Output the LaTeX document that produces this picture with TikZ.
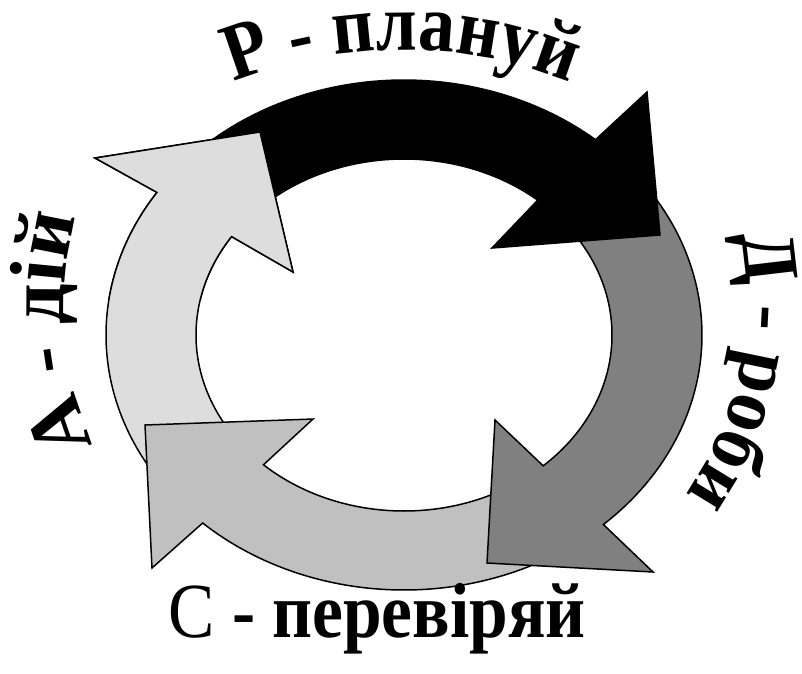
\documentclass[tikz,border=0pt]{standalone}
\usepackage{fontspec}
\setmainfont{Liberation Serif}
\newfontfamily\condfont[FakeStretch=0.9]{Liberation Serif}
\newfontfamily\sidefont[FakeStretch=0.96]{Liberation Serif}
\usetikzlibrary{calc,decorations.text}
\definecolor{lgray}{HTML}{DDDDDD}
\definecolor{sgray}{HTML}{C0C0C0}
\definecolor{dgray}{HTML}{808080}
\newcommand{\cyclefont}{\fontsize{78}{80}\selectfont\bfseries}
\newcommand{\topfont}{\condfont\fontsize{81}{82}\selectfont\bfseries}
\newcommand{\rightfont}{\sidefont\fontsize{78}{80}\selectfont\bfseries}
\newcommand{\leftfont}{\fontsize{80}{82}\selectfont\bfseries}
% #1 fill, #2 tail angle, #3 head base angle, #4 outer barb, #5 tip, #6 inner barb
\newcommand{\ringarrow}[6]{%
  \filldraw[ringarrowstyle, fill=#1]
    plot[domain=#2:#3, samples=70] ({404+298*cos(\x)},{335-255*sin(\x)})
    -- #4 -- #5 -- #6 --
    plot[domain=#3:#2, samples=70] ({404+208*cos(\x)},{335-176*sin(\x)})
    -- cycle;}
\tikzset{
  ringarrowstyle/.style={draw=black, line width=1.5pt, line join=miter},
  arctext/.style={decorate, decoration={text along path, text align=center}}
}
\begin{document}
\begin{tikzpicture}[x=1pt, y=-1pt]
\useasboundingbox (0,0) rectangle (802,673);
% left (A) arrow
\ringarrow{lgray}{220}{146}{(95,158)}{(260,132)}{(293,272)}
% bottom (C) arrow
\ringarrow{sgray}{-56}{-132.5}{(152,568)}{(145,425)}{(313,419)}
% right (D) arrow
\ringarrow{dgray}{42}{-48}{(653,572)}{(487,563)}{(495,420)}
% top (P) arrow
\ringarrow{black}{138}{50}{(647,92)}{(660,235)}{(492,248)}
% head of the left arrow over the tail of the top arrow
\begin{scope}
  \clip (0,0) rectangle (380,300);
  \ringarrow{lgray}{220}{146}{(95,158)}{(260,132)}{(293,272)}
\end{scope}
% texts
\path[arctext, decoration={text={|\topfont|Р - плануй}}]
  ($(402,505)+(-120:455)$) arc[start angle=-120, end angle=-60, radius=455];
\path[arctext, decoration={text={|\rightfont|Д - роби}}]
  ($(407,300)+(-27:340)$) arc[start angle=-27, end angle=51, radius=340];
\path[arctext, decoration={text={|\leftfont|А - дій}}]
  ($(407,306)+(-210:343)$) arc[start angle=-210, end angle=-158.8, radius=343];
\node[anchor=base, inner sep=0pt] (ctext) at (377,637)
  {\scalebox{0.89}[1]{\cyclefont{\mdseries С} - перевіряй}};
\end{tikzpicture}
\end{document}
